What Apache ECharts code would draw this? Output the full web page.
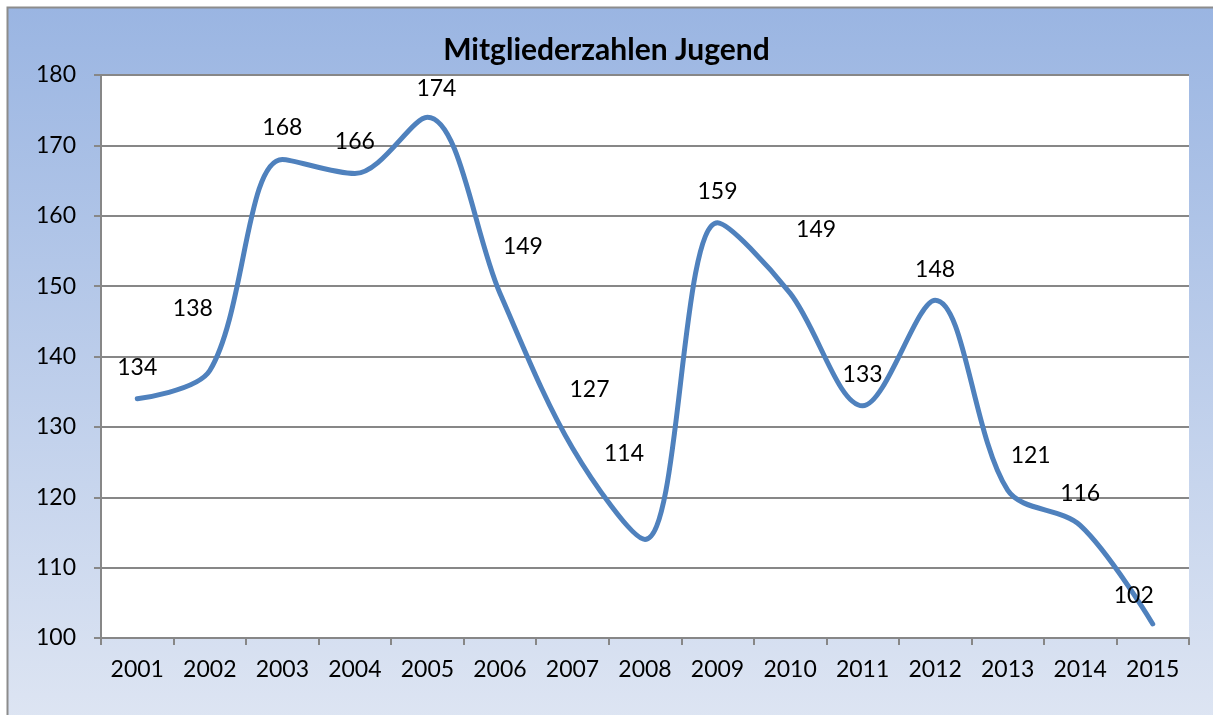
<!DOCTYPE html>
<html>
<head>
<meta charset="utf-8">
<script src="https://cdn.jsdelivr.net/npm/echarts@6/dist/echarts.min.js"></script>
<style>
  html, body { margin: 0; padding: 0; background: #fff; }
  #chart { width: 1213px; height: 715px; }
</style>
</head>
<body>
<div id="chart"></div>
<script>
// Jahre und Mitgliederzahlen
const years = ['2001', '2002', '2003', '2004', '2005', '2006', '2007', '2008',
  '2009', '2010', '2011', '2012', '2013', '2014', '2015'];
const members = [134, 138, 168, 166, 174, 149, 127, 114, 159, 149, 133, 148, 121, 116, 102];
const yTicks = [100, 110, 120, 130, 140, 150, 160, 170, 180];

// Verschiebung der Beschriftungen (wie in der Vorlage von Hand verschoben)
const labelShift = [
  [0, 0], [-17, -30], [0, 0], [0, 0], [9, 3], [23, -15], [17, -27], [-21, -54],
  [0, 0], [26, -32], [0, 0], [0, 1], [23, -3], [0, 0], [-19, 3]
];

const chart = echarts.init(document.getElementById('chart'));

const option = {
  animation: false,
  textStyle: { fontFamily: 'Lato, "Noto Sans", sans-serif' },
  graphic: [{
    type: 'rect',
    z: -10,
    shape: { x: 7.5, y: 7.5, width: 1230, height: 730 },
    style: {
      fill: new echarts.graphic.LinearGradient(0, 0, 0, 1, [
        { offset: 0, color: '#9AB5E2' },
        { offset: 1, color: '#DFE6F3' }
      ]),
      stroke: '#8C8C8C',
      lineWidth: 2
    }
  }],
  title: {
    text: 'Mitgliederzahlen Jugend',
    left: 'center',
    top: 30,
    textStyle: { fontSize: 30, fontWeight: 'bold', color: '#000' }
  },
  grid: {
    left: 101,
    right: 24,
    top: 75,
    bottom: 77,
    show: true,
    backgroundColor: '#fff',
    borderWidth: 0
  },
  xAxis: {
    type: 'category',
    data: years,
    boundaryGap: true,
    axisLine: { lineStyle: { color: '#878787', width: 2 } },
    axisTick: { show: true, length: 7, inside: false, lineStyle: { color: '#878787', width: 2 } },
    axisLabel: { color: '#000', fontSize: 23, margin: 20 }
  },
  yAxis: {
    type: 'value',
    min: yTicks[0],
    max: yTicks[yTicks.length - 1],
    interval: 10,
    axisLine: { show: true, lineStyle: { color: '#878787', width: 2 } },
    axisTick: { show: true, length: 7, lineStyle: { color: '#878787', width: 2 } },
    axisLabel: { color: '#000', fontSize: 23, margin: 25 },
    splitLine: { show: true, lineStyle: { color: '#878787', width: 2 } }
  },
  series: [{
    type: 'line',
    smooth: 0.33,
    symbol: 'circle',
    symbolSize: 2,
    showSymbol: true,
    itemStyle: { color: 'rgba(79,129,189,0)', borderWidth: 0 },
    data: members,
    lineStyle: { color: '#4F81BD', width: 5, cap: 'round' },
    label: {
      show: true,
      position: 'top',
      distance: 19,
      color: '#000',
      fontSize: 23
    },
    labelLayout: (params) => {
      const s = labelShift[params.dataIndex] || [0, 0];
      return { dx: s[0], dy: s[1], hideOverlap: false };
    },
    z: 3
  }]
};

chart.setOption(option);
</script>
</body>
</html>
